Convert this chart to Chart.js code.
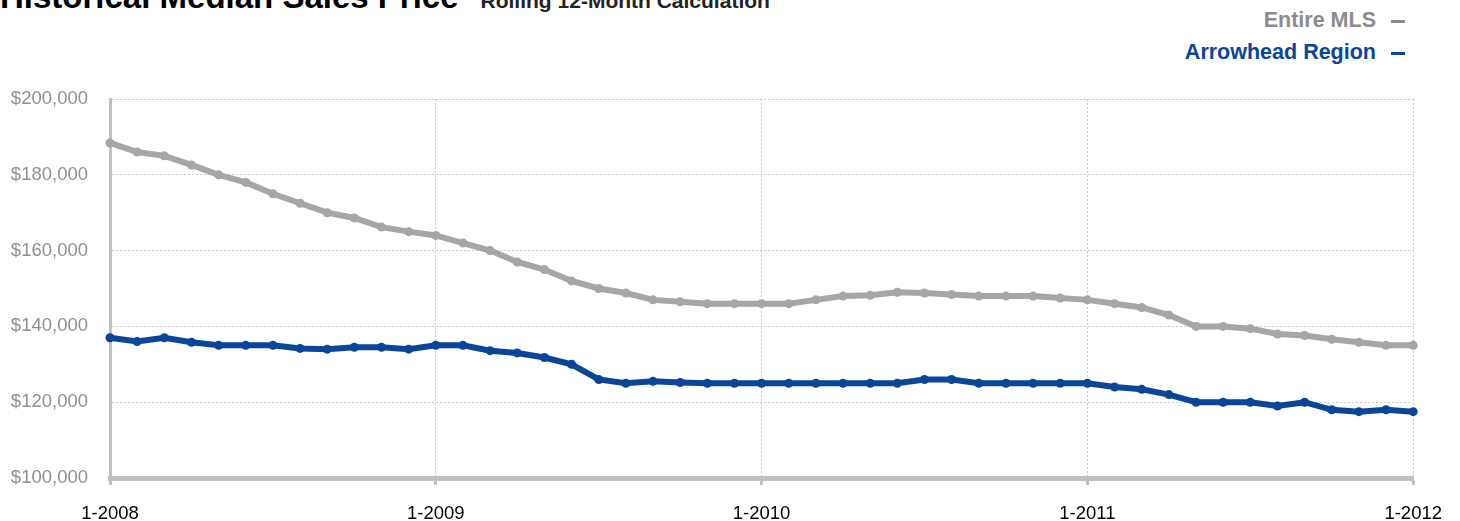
<!DOCTYPE html>
<html>
<head>
<meta charset="utf-8">
<script src="https://cdn.jsdelivr.net/npm/chart.js@4.4.1/dist/chart.umd.min.js"></script>
<style>
    body { margin: 0; background: #fff; font-family: "Liberation Sans", Arial, sans-serif; }
    #wrap { position: relative; width: 1460px; height: 521px; overflow: hidden; }
    #title { position: absolute; left: 0; top: -22px; white-space: nowrap; }
    #title .main { font-size: 33px; font-weight: bold; color: #000; }
    #title .sub { font-size: 21px; font-weight: bold; color: #222; margin-left: 22px; }
    .leg { position: absolute; right: 55px; font-size: 21.5px; font-weight: bold; white-space: nowrap; }
    .leg .dash { display: inline-block; width: 14px; height: 3px; margin-left: 15px; vertical-align: middle; }
    #leg1 { top: 8px; color: #8c8c8c; }
    #leg1 .dash { background: #8c8c8c; }
    #leg2 { top: 40px; color: #0b4599; }
    #leg2 .dash { background: #0b4599; }
    #chartBox { position: absolute; left: 0; top: 0; width: 1460px; height: 521px; }
</style>
</head>
<body>
<div id="wrap">
    <div id="title"><span class="main">Historical Median Sales Price</span><span class="sub">Rolling 12-Month Calculation</span></div>
    <div class="leg" id="leg1">Entire MLS<span class="dash"></span></div>
    <div class="leg" id="leg2">Arrowhead Region<span class="dash"></span></div>
    <div id="chartBox"><canvas id="priceChart"></canvas></div>
</div>
<script>
// Monthly points, 1-2008 through 1-2012
const months = [
    '1-2008', '2-2008', '3-2008', '4-2008', '5-2008', '6-2008', '7-2008', '8-2008', '9-2008', '10-2008', '11-2008', '12-2008',
    '1-2009', '2-2009', '3-2009', '4-2009', '5-2009', '6-2009', '7-2009', '8-2009', '9-2009', '10-2009', '11-2009', '12-2009',
    '1-2010', '2-2010', '3-2010', '4-2010', '5-2010', '6-2010', '7-2010', '8-2010', '9-2010', '10-2010', '11-2010', '12-2010',
    '1-2011', '2-2011', '3-2011', '4-2011', '5-2011', '6-2011', '7-2011', '8-2011', '9-2011', '10-2011', '11-2011', '12-2011',
    '1-2012'
];

const entireMLS = [
    188400, 186000, 185000, 182600, 180000, 178000, 175000, 172500, 170000, 168600, 166200, 165000,
    164000, 162000, 160000, 157000, 155000, 152000, 150000, 148800, 147000, 146500, 146000, 146000,
    146000, 146000, 147000, 148000, 148200, 149000, 148800, 148400, 148000, 148000, 148000, 147500,
    147000, 146000, 145000, 143000, 140000, 140000, 139400, 138000, 137600, 136600, 135800, 135000,
    135000
];

const arrowhead = [
    137000, 136000, 137000, 135800, 135000, 135000, 135000, 134200, 134000, 134500, 134500, 134000,
    135000, 135000, 133600, 133000, 131800, 130000, 126000, 125000, 125500, 125200, 125000, 125000,
    125000, 125000, 125000, 125000, 125000, 125000, 126000, 126000, 125000, 125000, 125000, 125000,
    125000, 124000, 123400, 122000, 120000, 120000, 120000, 119000, 120000, 118000, 117500, 118000,
    117500
];

const yTicks = { min: 100000, max: 200000, step: 20000 };

const gray = '#a6a6a6';
const blue = '#0b4599';
const axisGray = '#c0c0c0';
const gridGray = '#c8c8c8';

const isYear = idx => idx % 12 === 0;

new Chart(document.getElementById('priceChart'), {
    type: 'line',
    data: {
        labels: months,
        datasets: [{
            label: 'Entire MLS',
            data: entireMLS,
            borderColor: gray,
            backgroundColor: gray,
            borderWidth: 6,
            pointRadius: 4.5,
            pointBorderWidth: 0,
            tension: 0,
            clip: false
        }, {
            label: 'Arrowhead Region',
            data: arrowhead,
            borderColor: blue,
            backgroundColor: blue,
            borderWidth: 6,
            pointRadius: 4.5,
            pointBorderWidth: 0,
            tension: 0,
            clip: false
        }]
    },
    options: {
        responsive: true,
        maintainAspectRatio: false,
        animation: false,
        layout: {
            padding: { top: 99, right: 43, left: 0, bottom: 0 }
        },
        plugins: {
            legend: { display: false },
            tooltip: { enabled: false }
        },
        scales: {
            x: {
                afterFit: s => { s.height = 43; },
                grid: {
                    color: ctx => isYear(ctx.index) ? gridGray : 'transparent',
                    tickColor: ctx => isYear(ctx.index) ? axisGray : 'transparent',
                    tickLength: 7,
                    tickWidth: 3,
                    lineWidth: 1
                },
                border: { display: true, color: axisGray, width: 5, dash: [2, 2] },
                ticks: {
                    autoSkip: false,
                    maxRotation: 0,
                    padding: 18,
                    color: '#000',
                    font: { family: '"Liberation Sans", Arial, sans-serif', size: 18.5 },
                    callback: function (value, index) {
                        return isYear(index) ? months[index] : '';
                    }
                }
            },
            y: {
                min: yTicks.min,
                max: yTicks.max,
                afterFit: s => { s.width = 110; },
                grid: {
                    color: gridGray,
                    lineWidth: 1,
                    drawTicks: false
                },
                border: { display: true, color: axisGray, width: 3, dash: [2, 2] },
                ticks: {
                    stepSize: yTicks.step,
                    padding: 22,
                    color: '#909090',
                    font: { family: '"Liberation Sans", Arial, sans-serif', size: 18.5 },
                    callback: value => '$' + value.toLocaleString('en-US')
                }
            }
        }
    }
});
</script>
</body>
</html>
